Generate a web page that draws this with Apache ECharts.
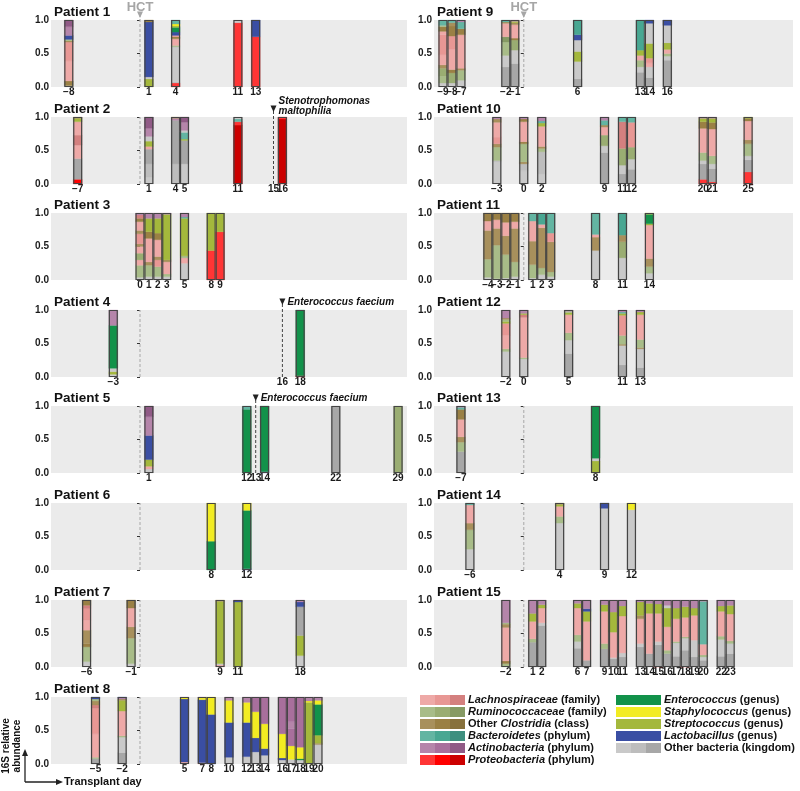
<!DOCTYPE html>
<html><head><meta charset="utf-8">
<script src="https://cdn.jsdelivr.net/npm/echarts@6/dist/echarts.min.js"></script>
<style>html,body{margin:0;padding:0;background:#fff}#c{width:800px;height:791px}</style>
</head><body><div id="c"></div><script>
const FONT = '"Liberation Sans", Arial, Helvetica, sans-serif';
const COLORS = {
  L1:'#eea9a7', L2:'#e89794', L3:'#d4807f',
  R1:'#a8bc88', R2:'#9aad72', R3:'#869a64',
  C1:'#a8905c', C2:'#9a8044', C3:'#87713c',
  B1:'#63b5a2', B2:'#48a792', B3:'#3e8f7f',
  A1:'#b585aa', A2:'#a86f9c', A3:'#905a86',
  P1:'#ff3535', P2:'#ff0000', P3:'#cc0000',
  E:'#12924a', S:'#f2ec22', T:'#a4b83c', K:'#3a4ea3',
  O1:'#c9c9c9', O2:'#bdbdbd', O3:'#a7a7a7'
};
// each sample: [day, code, fraction, code, fraction, ...] from bottom to top
const patient1 = [
 [-8,'O1',.02,'C2',.07,'L1',.30,'L2',.28,'C1',.02,'R1',.02,'K',.06,'A1',.13,'A3',.10],
 [1,'T',.12,'O1',.03,'K',.82,'C2',.03],
 [4,'P1',.06,'O2',.02,'O1',.52,'R1',.02,'L1',.10,'C2',.03,'L2',.02,'K',.05,'E',.07,'T',.02,'S',.03,'B1',.06],
 [11,'P1',.96,'O1',.04],
 [13,'P1',.75,'K',.25]
];
const patient2 = [
 [-7,'P2',.07,'O3',.31,'L1',.20,'L3',.15,'L1',.20,'T',.05,'C1',.02],
 [1,'O1',.10,'O2',.20,'O3',.22,'L1',.04,'T',.08,'O1',.07,'A1',.12,'A3',.17],
 [4,'O2',.30,'O3',.65,'A1',.03,'C1',.02],
 [5,'O1',.30,'O3',.35,'T',.02,'B1',.10,'O1',.03,'A1',.12,'A3',.08],
 [11,'P3',.88,'P1',.05,'B1',.04,'O1',.03],
 [16,'P3',.97,'P1',.03]
];
const patient3 = [
 [0,'O1',.04,'R1',.18,'L1',.08,'R2',.10,'L1',.10,'C1',.04,'L2',.15,'C1',.05,'L1',.13,'C2',.05,'L3',.05,'A1',.03],
 [1,'O1',.05,'R1',.17,'C1',.05,'L1',.35,'C2',.10,'T',.20,'A1',.08],
 [2,'O1',.05,'R1',.15,'L2',.10,'C1',.05,'L1',.25,'C2',.10,'T',.22,'A1',.08],
 [3,'O1',.05,'R1',.04,'L1',.18,'C1',.03,'T',.68,'A1',.02],
 [5,'O1',.25,'L1',.08,'R1',.03,'T',.56,'B1',.02,'A1',.06],
 [8,'P1',.44,'T',.56],
 [9,'P1',.72,'T',.28]
];
const patient4 = [
 [-3,'O1',.04,'T',.04,'O1',.05,'E',.64,'A1',.23],
 [18,'P3',.02,'E',.98]
];
const patient5 = [
 [1,'O1',.06,'L1',.04,'T',.10,'K',.36,'A1',.28,'A3',.16],
 [12,'E',.95,'B1',.05],
 [14,'K',.02,'E',.98],
 [22,'O3',1],
 [29,'R2',1]
];
const patient6 = [
 [8,'E',.43,'S',.57],
 [12,'K',.02,'E',.87,'S',.11]
];
const patient7 = [
 [-6,'O1',.08,'R1',.22,'C2',.05,'C1',.20,'L1',.15,'L2',.17,'L3',.05,'C2',.08],
 [-1,'O1',.05,'R1',.38,'C1',.17,'L1',.28,'C2',.12],
 [9,'L1',.03,'O1',.02,'T',.93,'C1',.02],
 [11,'T',.97,'K',.02,'A1',.01],
 [18,'O1',.17,'T',.30,'O3',.43,'K',.07,'A1',.03]
];
const patient8 = [
 [-5,'O3',.08,'R1',.02,'L1',.35,'L2',.38,'L3',.05,'C1',.06,'R1',.03,'K',.03],
 [-2,'O3',.17,'O1',.23,'R1',.02,'L1',.37,'T',.16,'C1',.02,'A1',.02,'K',.01],
 [5,'L1',.03,'K',.94,'S',.02,'A1',.01],
 [7,'L1',.02,'K',.94,'S',.03,'A1',.01],
 [8,'K',.74,'S',.26],
 [10,'O1',.10,'K',.52,'S',.33,'A1',.05],
 [12,'O1',.11,'K',.51,'S',.30,'A1',.08],
 [13,'O1',.18,'K',.21,'S',.39,'A2',.22],
 [14,'O1',.13,'K',.10,'S',.37,'A2',.40],
 [16,'O1',.06,'K',.03,'S',.36,'A2',.55],
 [17,'O1',.07,'S',.20,'A2',.26,'A1',.10,'A2',.37],
 [18,'O1',.06,'E',.02,'S',.17,'A2',.75],
 [19,'T',.92,'S',.02,'A1',.06],
 [20,'O1',.29,'C1',.02,'T',.12,'E',.46,'S',.06,'A1',.05]
];
const patient9 = [
 [-9,'O1',.06,'R1',.10,'R2',.12,'C1',.05,'L1',.15,'L2',.30,'L1',.05,'C2',.07,'R1',.02,'B1',.08],
 [-8,'O1',.06,'R2',.15,'C2',.05,'L1',.30,'L2',.20,'C2',.15,'C1',.05,'B1',.04],
 [-7,'O1',.10,'R1',.15,'C1',.03,'L1',.50,'C2',.09,'B1',.10,'A1',.03],
 [-2,'O3',.30,'O1',.17,'R1',.20,'R3',.08,'L1',.20,'C1',.02,'B1',.03],
 [-1,'O3',.35,'O1',.20,'R2',.15,'C2',.03,'L1',.20,'C1',.03,'T',.02,'A1',.02],
 [6,'O3',.12,'O1',.26,'T',.15,'O1',.17,'K',.08,'B2',.22],
 [13,'O3',.22,'O1',.08,'R1',.10,'L1',.07,'T',.08,'B2',.45],
 [14,'O3',.14,'O1',.16,'L1',.06,'L2',.07,'T',.22,'O1',.30,'K',.05],
 [16,'O3',.40,'O1',.06,'R1',.04,'L1',.06,'T',.10,'O1',.26,'K',.08]
];
const patient10 = [
 [-3,'O1',.33,'O2',.02,'R1',.20,'C1',.05,'L2',.10,'L1',.22,'C1',.05,'A1',.03],
 [0,'O1',.20,'O2',.10,'C1',.03,'R1',.27,'C2',.03,'L1',.30,'C2',.04,'A1',.03],
 [2,'O1',.15,'O2',.33,'R1',.05,'C1',.03,'L1',.30,'T',.05,'B1',.03,'A1',.06],
 [9,'O3',.47,'O1',.10,'R2',.16,'L1',.12,'C1',.03,'B1',.07,'A1',.05],
 [11,'O3',.15,'O1',.13,'R2',.25,'L3',.40,'B1',.07],
 [12,'O3',.22,'O1',.15,'R2',.18,'L2',.37,'B1',.08],
 [20,'P1',.07,'O3',.23,'O1',.05,'R1',.12,'L1',.36,'C2',.10,'T',.05,'A1',.02],
 [21,'P1',.03,'O3',.20,'O1',.07,'R1',.12,'L1',.40,'C2',.10,'T',.06,'A1',.02],
 [25,'P1',.18,'O3',.18,'O1',.06,'R1',.18,'C1',.06,'L1',.28,'C2',.04,'T',.02]
];
const patient11 = [
 [-4,'O1',.04,'R1',.27,'C1',.43,'L1',.14,'C2',.12],
 [-3,'O1',.02,'R1',.50,'C1',.25,'L1',.13,'C2',.10],
 [-2,'O1',.03,'R1',.35,'C1',.28,'L1',.20,'C2',.14],
 [-1,'O1',.05,'R1',.22,'C1',.50,'L1',.10,'C2',.13],
 [1,'O1',.03,'R1',.20,'C1',.35,'L1',.30,'B1',.12],
 [2,'O1',.08,'R1',.10,'C1',.60,'L1',.05,'B2',.17],
 [3,'O1',.05,'R1',.07,'C1',.45,'L2',.13,'B1',.30],
 [8,'O1',.44,'C1',.20,'L1',.04,'B1',.32],
 [11,'O1',.33,'R2',.24,'C1',.10,'B2',.33],
 [14,'O1',.10,'R1',.10,'C1',.12,'L1',.50,'T',.02,'E',.14,'T',.02]
];
const patient12 = [
 [-2,'O1',.38,'R1',.04,'L1',.20,'L2',.18,'T',.03,'R1',.03,'C1',.02,'A1',.12],
 [0,'O1',.27,'R1',.02,'L1',.60,'L3',.04,'T',.02,'A1',.05],
 [5,'O3',.35,'O1',.20,'R1',.11,'L1',.27,'T',.03,'R1',.02,'A1',.02],
 [11,'O3',.18,'O1',.29,'C1',.02,'R1',.13,'L2',.30,'T',.03,'B1',.02,'A1',.03],
 [13,'O3',.14,'O1',.28,'C1',.02,'R1',.12,'L1',.37,'T',.04,'A1',.03]
];
const patient13 = [
 [-7,'O3',.32,'R1',.14,'C1',.08,'L1',.26,'C2',.15,'B1',.03,'A1',.02],
 [8,'T',.18,'O1',.04,'E',.78]
];
const patient14 = [
 [-6,'O1',.31,'R1',.29,'C1',.10,'L1',.27,'B1',.03],
 [4,'O1',.70,'R1',.10,'L1',.15,'T',.03,'C1',.02],
 [9,'O1',.92,'K',.08],
 [12,'O1',.90,'S',.10]
];
const patient15 = [
 [-2,'R1',.05,'C2',.04,'L1',.50,'C1',.05,'R1',.02,'A1',.34],
 [1,'O3',.37,'R1',.05,'L1',.26,'T',.12,'A1',.20],
 [2,'O3',.62,'O1',.04,'L1',.22,'T',.05,'A1',.07],
 [6,'O3',.28,'O1',.10,'R1',.10,'L1',.40,'T',.07,'A1',.05],
 [7,'O3',.10,'L1',.58,'T',.15,'K',.04,'A1',.13],
 [9,'O3',.27,'R1',.08,'L1',.48,'T',.10,'A1',.07],
 [10,'O3',.12,'O1',.02,'L1',.38,'T',.30,'A1',.18],
 [11,'O3',.15,'O1',.06,'L1',.55,'T',.15,'A1',.09],
 [13,'O3',.30,'O1',.05,'L1',.37,'C1',.05,'T',.20,'A1',.03],
 [14,'O3',.20,'L1',.60,'T',.15,'A1',.05],
 [15,'P1',.01,'O3',.32,'O1',.05,'L1',.42,'T',.14,'A1',.06],
 [16,'O3',.20,'R1',.05,'L1',.35,'T',.28,'O1',.04,'A1',.08],
 [17,'O3',.16,'O1',.20,'R1',.02,'L1',.34,'T',.16,'A1',.12],
 [18,'P1',.01,'O3',.24,'O1',.18,'R1',.02,'L1',.29,'T',.16,'A1',.10],
 [19,'O3',.15,'O1',.25,'L1',.37,'T',.11,'A1',.12],
 [20,'O3',.10,'O1',.05,'R1',.03,'L1',.16,'B1',.64,'A1',.02],
 [22,'O3',.16,'O1',.25,'R1',.05,'L1',.37,'T',.08,'A1',.09],
 [23,'O3',.20,'O1',.15,'R1',.04,'L1',.40,'T',.13,'A1',.08]
];
const infections = [
 {patient:2, day:15, lines:['Stenotrophomonas','maltophilia']},
 {patient:4, day:16, lines:['Enterococcus faecium']},
 {patient:5, day:13, lines:['Enterococcus faecium']}
];
const hctLabelPatients = [1, 9];
const legendLeft = [
 ['{i|Lachnospiraceae} (family)', ['L1','L2','L3']],
 ['{i|Ruminococcaceae} (family)', ['R1','R2','R3']],
 ['Other {i|Clostridia} (class)', ['C1','C2','C3']],
 ['{i|Bacteroidetes} (phylum)', ['B1','B2','B3']],
 ['{i|Actinobacteria} (phylum)', ['A1','A2','A3']],
 ['{i|Proteobacteria} (phylum)', ['P1','P2','P3']]
];
const legendRight = [
 ['{i|Enterococcus} (genus)', ['E']],
 ['{i|Staphylococcus} (genus)', ['S']],
 ['{i|Streptococcus} (genus)', ['T']],
 ['{i|Lactobacillus} (genus)', ['K']],
 ['Other bacteria (kingdom)', ['O1','O2','O3']]
];

const patients = [patient1,patient2,patient3,patient4,patient5,patient6,patient7,patient8,
  patient9,patient10,patient11,patient12,patient13,patient14,patient15];
const TOPS = [20,117,213,310,406,503,600,697];
const PANEL_H = 67;

function fmtDay(v){ return v < 0 ? '\u2212' + (-v) : String(v); }
function tri(x, y, color){
  return {type:'polygon', shape:{points:[[x-3,y-3.5],[x+3,y-3.5],[x,y+3]]}, style:{fill:color}};
}
function renderBar(s, api){
  const day = s[0];
  let total = 0;
  for (let k = 2; k < s.length; k += 2) total += s[k];
  const xl = api.coord([day-0.5,0])[0], xr = api.coord([day+0.5,0])[0];
  const children = [];
  let acc = 0;
  for (let k = 1; k < s.length; k += 2){
    const v = s[k+1]/total;
    const yb = api.coord([day, acc])[1], yt = api.coord([day, acc+v])[1];
    const c = COLORS[s[k]];
    children.push({type:'rect', shape:{x:xl, y:yt, width:xr-xl, height:yb-yt},
      style:{fill:c, stroke:c, lineWidth:0.3}});
    acc += v;
  }
  const y0 = api.coord([day,0])[1], y1 = api.coord([day,1])[1];
  children.push({type:'rect', shape:{x:xl+0.5, y:y1+0.5, width:xr-xl-1, height:y0-y1-1},
    style:{fill:'none', stroke:'#444', lineWidth:1.2}});
  return {type:'group', children};
}
function renderAnnot(a, api){
  const x = api.coord([a.day,0])[0];
  const yb = api.coord([a.day,0])[1], yt = api.coord([a.day,1])[1];
  const ch = [];
  if (a.kind === 'hct'){
    const topY = a.label ? yt-5 : yt;
    ch.push({type:'line', shape:{x1:x,y1:yb,x2:x,y2:topY}, style:{stroke:'#b3b3b3', lineWidth:1.2, lineDash:[3,2]}});
    if (a.label){
      ch.push(tri(x, yt-5, '#a6a6a6'));
      ch.push({type:'text', style:{text:'HCT', x:x, y:yt-12.5, align:'center', verticalAlign:'middle',
        textAlign:'center', textVerticalAlign:'middle', font:'bold 13px '+FONT, fill:'#a6a6a6'}});
    }
  } else {
    const ty = yt-8;
    ch.push({type:'line', shape:{x1:x,y1:yb,x2:x,y2:ty}, style:{stroke:'#444', lineWidth:1, lineDash:[3,2]}});
    ch.push(tri(x, ty, '#222'));
    const ys = a.lines.length === 2 ? [yt-16, yt-6] : [yt-8];
    a.lines.forEach((t, j) => {
      ch.push({type:'text', style:{text:t, x:x+5, y:ys[j], align:'left', verticalAlign:'middle',
        textAlign:'left', textVerticalAlign:'middle', font:'italic bold 10px '+FONT, fill:'#111'}});
    });
  }
  return {type:'group', children:ch};
}

const grids=[], xAxes=[], yAxes=[], series=[], titles=[];
patients.forEach((samples, i) => {
  const num = i+1;
  const col = i < 8 ? 0 : 1;
  const row = col === 0 ? i : i-8;
  const left = col === 0 ? 51 : 434;
  const width = col === 0 ? 356 : 359;
  const top = TOPS[row];
  grids.push({left, top, width, height:PANEL_H, show:true, backgroundColor:'#ebebeb', borderWidth:0});
  const inf = infections.filter(f => f.patient === num);
  const labelDays = new Set(samples.map(s => s[0]).concat(inf.map(f => f.day)));
  xAxes.push({type:'value', gridIndex:i, min:-10, max:30, interval:1,
    axisLine:{show:false}, axisTick:{show:false}, splitLine:{show:false},
    axisLabel:{margin:0, fontSize:10, fontWeight:'bold', color:'#1a1a1a', fontFamily:FONT,
      showMinLabel:true, showMaxLabel:true,
      formatter: v => labelDays.has(v) ? fmtDay(v) : ''}});
  yAxes.push({type:'value', gridIndex:i, min:0, max:1, interval:0.5,
    axisLine:{show:false}, axisTick:{show:true, length:3, lineStyle:{color:'#333'}}, splitLine:{show:false},
    axisLabel:{margin:2, fontSize:10, fontWeight:'bold', color:'#1a1a1a', fontFamily:FONT,
      formatter: v => v.toFixed(1)}});
  const annots = [{kind:'hct', day:0, label: hctLabelPatients.includes(num)}]
    .concat(inf.map(f => ({kind:'inf', day:f.day, lines:f.lines})));
  series.push({type:'custom', xAxisIndex:i, yAxisIndex:i, z:1, silent:true, animation:false,
    data: annots.map(a => [a.day, 0]), renderItem:(p, api) => renderAnnot(annots[p.dataIndex], api)});
  series.push({type:'custom', xAxisIndex:i, yAxisIndex:i, z:2, silent:true, animation:false,
    data: samples.map(s => [s[0], 1]), renderItem:(p, api) => renderBar(samples[p.dataIndex], api)});
  titles.push({text:'Patient '+num, left:left+3, top:top-15, padding:0,
    textStyle:{fontSize:13.5, fontWeight:'bold', color:'#111', fontFamily:FONT}});
});

const graphic = [];
function addLegend(list, x0){
  list.forEach((item, r) => {
    const cy = 700 + r*12;
    const w = 45/item[1].length;
    item[1].forEach((code, j) => {
      graphic.push({type:'rect', shape:{x:x0+j*w, y:cy-5, width:w, height:10}, style:{fill:COLORS[code]}, silent:true});
    });
    graphic.push({type:'text', x:x0+48, y:cy, silent:true, style:{text:item[0],
      rich:{i:{fontStyle:'italic', fontWeight:'bold', fontSize:11, fontFamily:FONT, fill:'#111'}},
      fontSize:11, fontWeight:'bold', fontFamily:FONT, fill:'#111',
      align:'left', verticalAlign:'middle', textAlign:'left', textVerticalAlign:'middle'}});
  });
}
addLegend(legendLeft, 420);
addLegend(legendRight, 616);
// corner axis guide
graphic.push({type:'line', shape:{x1:25,y1:782,x2:25,y2:754}, style:{stroke:'#222', lineWidth:1.3}, silent:true});
graphic.push({type:'polygon', shape:{points:[[22,756],[28,756],[25,749]]}, style:{fill:'#222'}, silent:true});
graphic.push({type:'line', shape:{x1:25,y1:782,x2:58,y2:782}, style:{stroke:'#222', lineWidth:1.3}, silent:true});
graphic.push({type:'polygon', shape:{points:[[56,779],[56,785],[63,782]]}, style:{fill:'#222'}, silent:true});
graphic.push({type:'text', x:64, y:782, silent:true, style:{text:'Transplant day', font:'bold 11px '+FONT, fill:'#111',
  align:'left', verticalAlign:'middle', textAlign:'left', textVerticalAlign:'middle'}});
graphic.push({type:'text', x:11.5, y:746, rotation:Math.PI/2, silent:true, style:{text:'16S relative\nabundance',
  font:'bold 10px '+FONT, lineHeight:11, fill:'#111', align:'center', verticalAlign:'middle', textAlign:'center', textVerticalAlign:'middle'}});

const chart = echarts.init(document.getElementById('c'), null, {renderer:'canvas'});
chart.setOption({
  animation:false,
  backgroundColor:'#ffffff',
  title: titles,
  grid: grids,
  xAxis: xAxes,
  yAxis: yAxes,
  series: series,
  graphic: graphic
});
</script></body></html>
